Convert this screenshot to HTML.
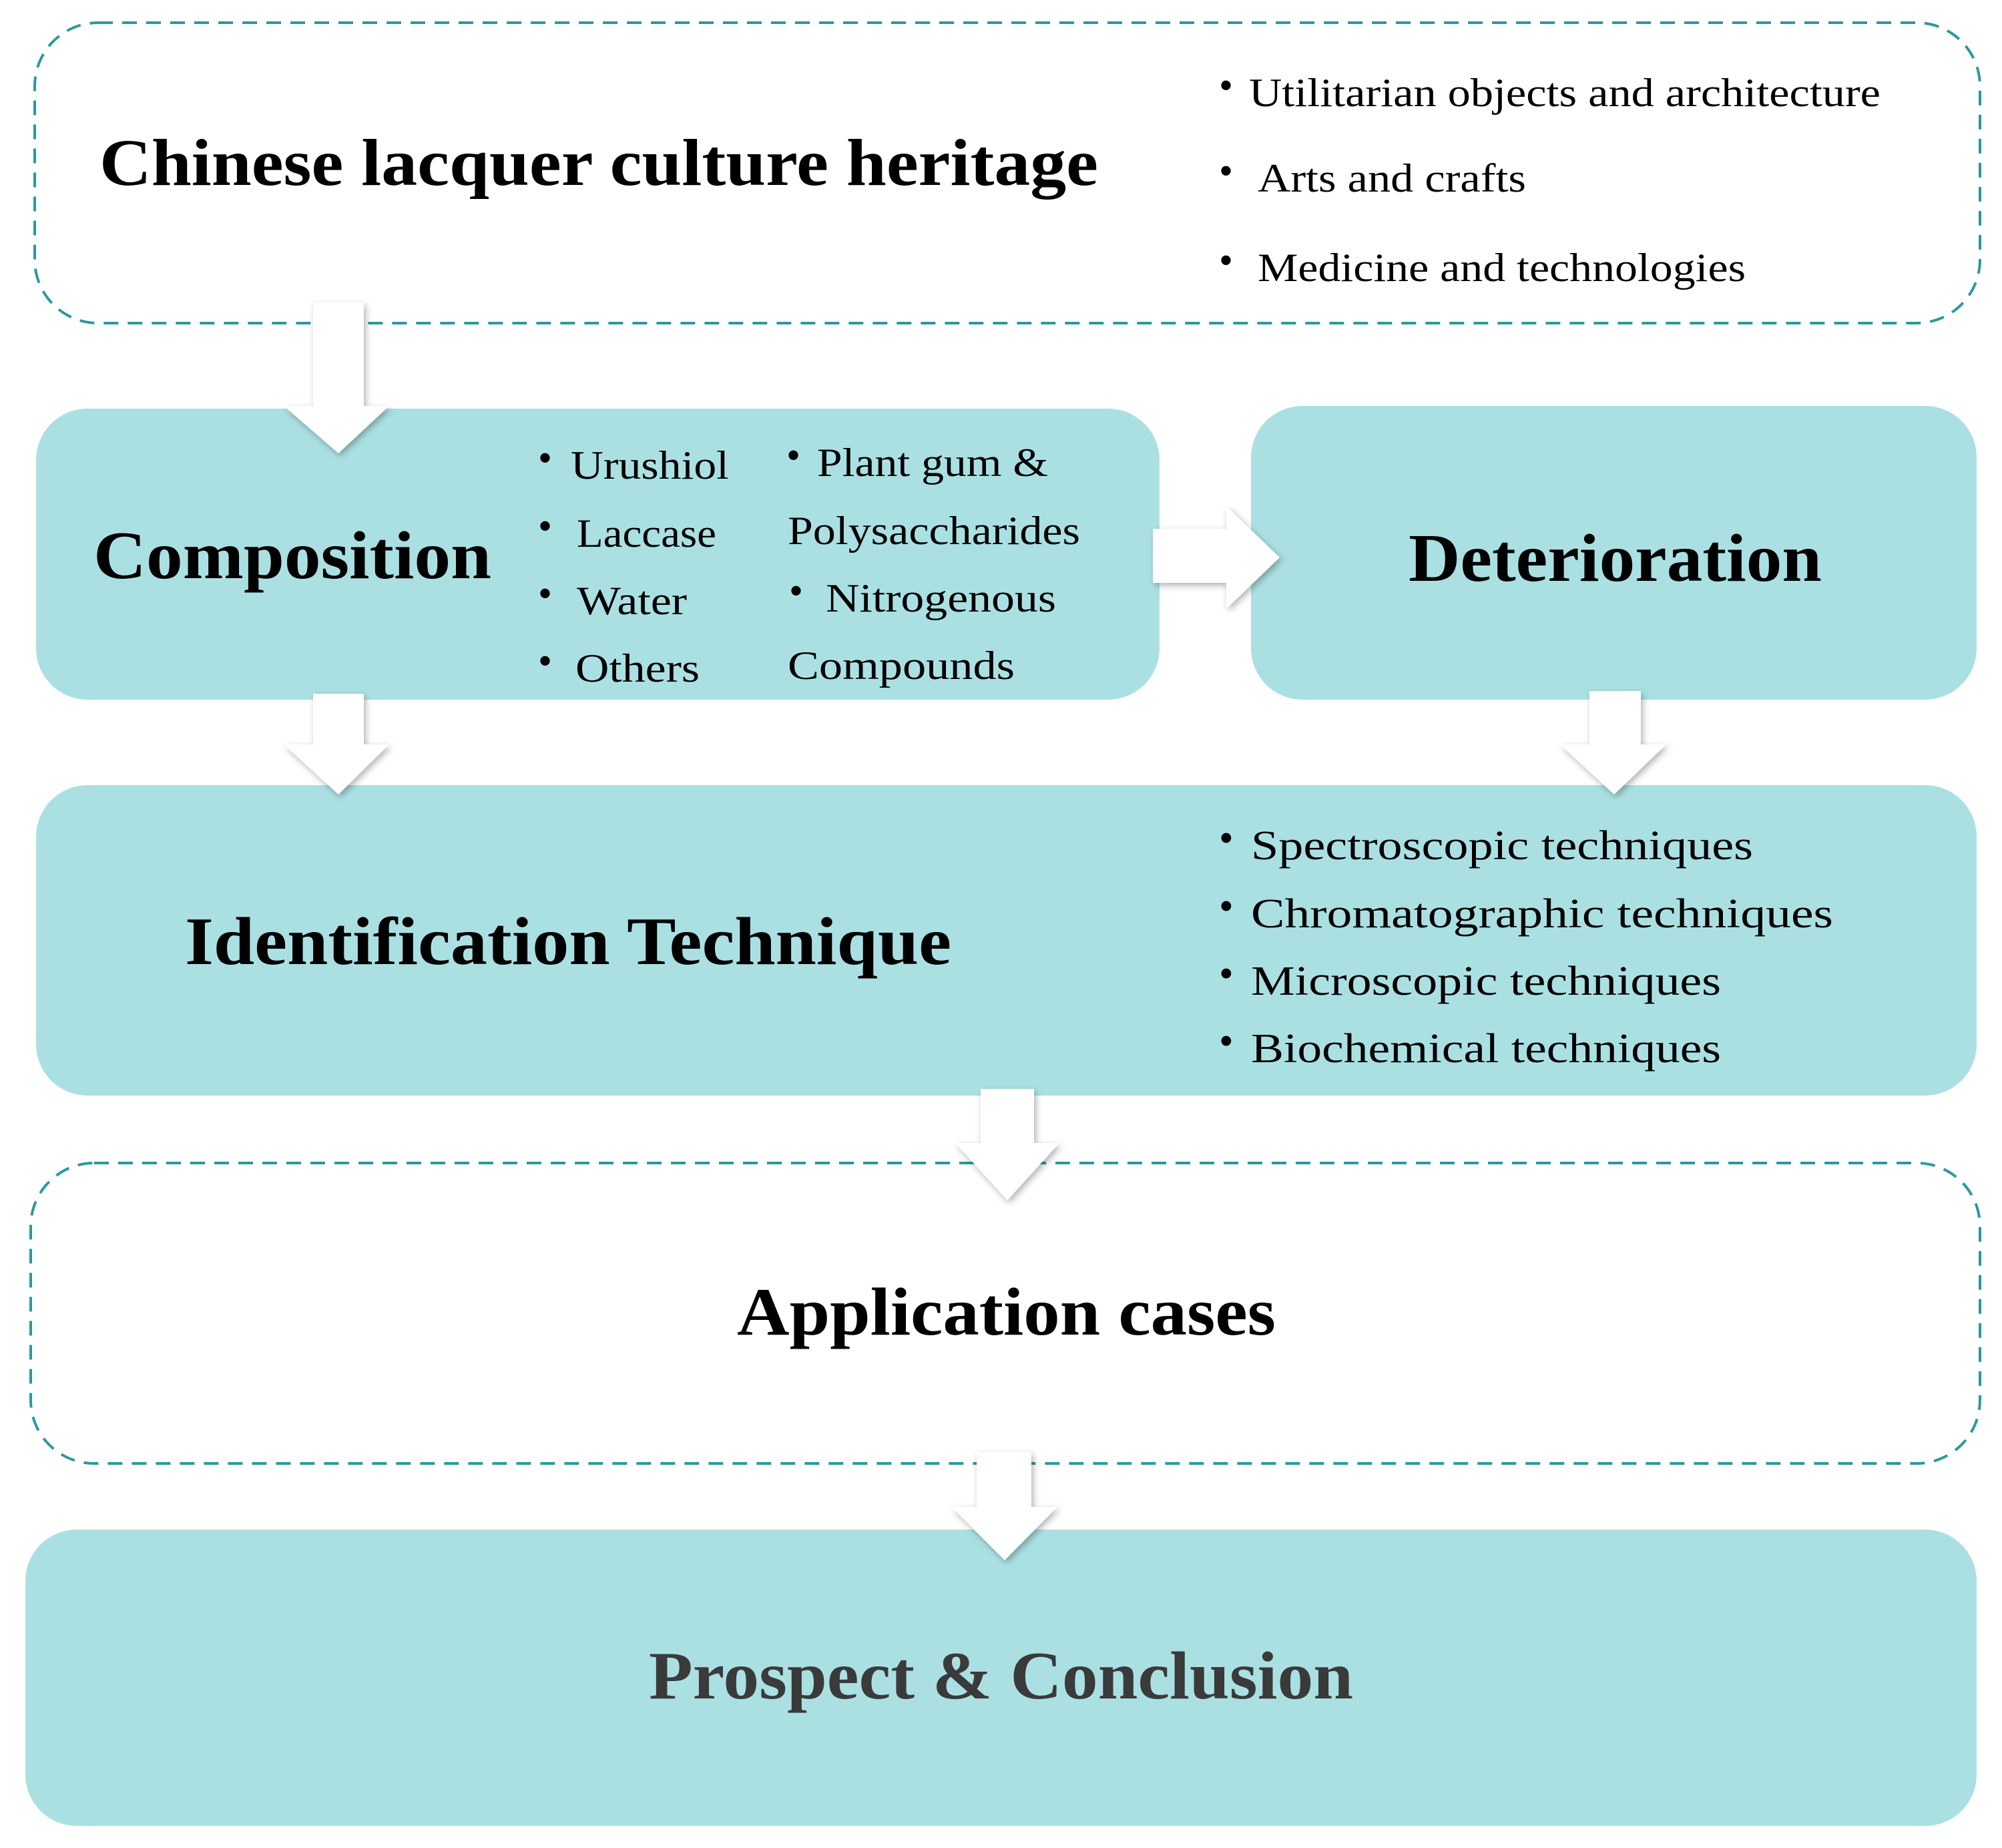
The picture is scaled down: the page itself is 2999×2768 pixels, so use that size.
<!DOCTYPE html>
<html><head><meta charset="utf-8"><style>html,body{margin:0;padding:0;background:#fff}svg{display:block}</style></head>
<body>
<svg width="2999" height="2768" viewBox="0 0 2999 2768" xmlns="http://www.w3.org/2000/svg">
<defs>
<filter id="sh" x="-30%" y="-30%" width="160%" height="160%">
<feDropShadow dx="3" dy="4" stdDeviation="5" flood-color="#000" flood-opacity="0.3"/>
</filter>
</defs>
<rect width="2999" height="2768" fill="#fff"/>
<!-- boxes -->
<rect x="52" y="34" width="2914" height="450" rx="95" fill="#fff" stroke="#2a9a9d" stroke-width="4" stroke-dasharray="22,14"/>
<rect x="54" y="612" width="1683" height="436" rx="77" fill="#abe0e3"/>
<rect x="1874" y="608" width="1087" height="440" rx="77" fill="#abe0e3"/>
<rect x="54" y="1176" width="2907" height="465" rx="77" fill="#abe0e3"/>
<rect x="46" y="1742" width="2920" height="450" rx="95" fill="#fff" stroke="#2a9a9d" stroke-width="4" stroke-dasharray="22,14"/>
<rect x="38" y="2291" width="2923" height="444" rx="77" fill="#abe0e3"/>

<!-- arrows -->
<g fill="#fff" filter="url(#sh)">
<polygon points="469,453 545,453 545,608 583,608 507,679 425,608 469,608"/>
<polygon points="1727,792 1837,792 1837,758 1917,835 1837,912 1837,873 1727,873"/>
<polygon points="469,1039 545,1039 545,1115 583,1115 507,1190 425,1115 469,1115"/>
<polygon points="2381,1035 2458,1035 2458,1115 2496,1115 2418,1190 2337,1115 2381,1115"/>
<polygon points="1469,1631 1549,1631 1549,1712 1587,1712 1509,1798 1431,1712 1469,1712"/>
<polygon points="1463,2175 1545,2175 1545,2257 1584,2257 1505,2337 1425,2257 1463,2257"/>
</g>

<g font-family="'Liberation Serif', serif" fill="#000">
<text x="149" y="277" font-size="100" font-weight="bold" textLength="1496" lengthAdjust="spacingAndGlyphs">Chinese lacquer culture heritage</text>
<g font-size="60">
<text x="1826" y="148">•</text>
<text x="1871" y="159" textLength="946" lengthAdjust="spacingAndGlyphs">Utilitarian objects and architecture</text>
<text x="1826" y="276">•</text>
<text x="1884" y="287" textLength="402" lengthAdjust="spacingAndGlyphs">Arts and crafts</text>
<text x="1826" y="410">•</text>
<text x="1884" y="421" textLength="731" lengthAdjust="spacingAndGlyphs">Medicine and technologies</text>
</g>

<text x="140" y="866" font-size="102" font-weight="bold" textLength="596" lengthAdjust="spacingAndGlyphs">Composition</text>
<g font-size="60">
<text x="806" y="706">•</text><text x="855" y="717" textLength="237" lengthAdjust="spacingAndGlyphs">Urushiol</text>
<text x="806" y="808">•</text><text x="864" y="819" textLength="209" lengthAdjust="spacingAndGlyphs">Laccase</text>
<text x="806" y="909">•</text><text x="864" y="920" textLength="165" lengthAdjust="spacingAndGlyphs">Water</text>
<text x="806" y="1010">•</text><text x="862" y="1021" textLength="186" lengthAdjust="spacingAndGlyphs">Others</text>
<text x="1178" y="702">•</text><text x="1224" y="713" textLength="346" lengthAdjust="spacingAndGlyphs">Plant gum &amp;</text>
<text x="1180" y="815" textLength="438" lengthAdjust="spacingAndGlyphs">Polysaccharides</text>
<text x="1182" y="905">•</text><text x="1237" y="916" textLength="345" lengthAdjust="spacingAndGlyphs">Nitrogenous</text>
<text x="1180" y="1017" textLength="340" lengthAdjust="spacingAndGlyphs">Compounds</text>
</g>

<text x="2110" y="870" font-size="102" font-weight="bold" textLength="619" lengthAdjust="spacingAndGlyphs">Deterioration</text>

<text x="277" y="1444" font-size="102" font-weight="bold" textLength="1148" lengthAdjust="spacingAndGlyphs">Identification Technique</text>
<g font-size="62">
<text x="1826" y="1276">•</text><text x="1874" y="1287" textLength="752" lengthAdjust="spacingAndGlyphs">Spectroscopic techniques</text>
<text x="1826" y="1378">•</text><text x="1874" y="1389" textLength="872" lengthAdjust="spacingAndGlyphs">Chromatographic techniques</text>
<text x="1826" y="1479">•</text><text x="1874" y="1490" textLength="704" lengthAdjust="spacingAndGlyphs">Microscopic techniques</text>
<text x="1826" y="1580">•</text><text x="1874" y="1591" textLength="704" lengthAdjust="spacingAndGlyphs">Biochemical techniques</text>
</g>

<text x="1104" y="1999" font-size="102" font-weight="bold" textLength="807" lengthAdjust="spacingAndGlyphs">Application cases</text>
<text x="972" y="2544" font-size="102" font-weight="bold" fill="#3a3a3a" textLength="1055" lengthAdjust="spacingAndGlyphs">Prospect &amp; Conclusion</text>
</g>
</svg>
</body></html>
